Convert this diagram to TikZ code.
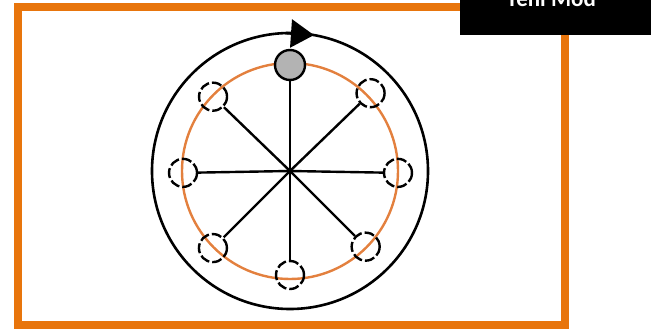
\documentclass[tikz,border=0pt]{standalone}
\usepackage{fontspec}
\newfontfamily\tabfont{Carlito}
\usetikzlibrary{arrows.meta,positioning,calc}
\definecolor{frame}{HTML}{E8750C}
\definecolor{track}{HTML}{E3803E}
\definecolor{knob}{HTML}{B3B3B3}

\begin{document}
\begin{tikzpicture}[x=1pt,y=1pt,
 seat/.style={circle,draw=black,line width=2.4pt,dash pattern=on 10pt off 3pt,
 minimum size=28pt,inner sep=0pt},
 active/.style={circle,draw=black,fill=knob,line width=2.4pt,
 minimum size=30pt,inner sep=0pt},
 spoke/.style={draw=black,line width=2.4pt}]
\useasboundingbox (0,0) rectangle (651,329);
\clip (0,0) rectangle (651,329);
\draw[frame,line width=7.5pt] (18,4) rectangle (565,322);
\node[fill=black,minimum width=191pt,minimum height=35pt,inner sep=0pt,
 anchor=north east] (tab) at (651,329) {};
\node[anchor=base,text=white,inner sep=0pt,
 font=\tabfont\bfseries\fontsize{23}{23}\selectfont] (mode) at (551,322) {Yeni Mod};
\coordinate (hub) at (290,158);
\draw[line width=2.6pt] (hub) circle[radius=138];
\coordinate (turn) at ($(hub)+(80:138)$);
\draw[line width=2.6pt,-{Triangle[length=23pt,width=28pt]}]
 ($(hub)+(92:138)$) -- (turn);
\draw[track,line width=2.4pt] (hub) circle[radius=108];
\node[active] (top) at ($(hub)+(90:106)$) {};
\draw[spoke] (hub)--(top);
\foreach \n/\ang/\rad in {ur/44/112,r/-1/108,lr/-45/107,b/-90/104,
 ll/-135/109,l/181/107,ul/136/107}{
 \node[seat] (s\n) at ($(hub)+(\ang:\rad)$) {};
 \draw[spoke] (hub)--(s\n);
}
\end{tikzpicture}
\end{document}
